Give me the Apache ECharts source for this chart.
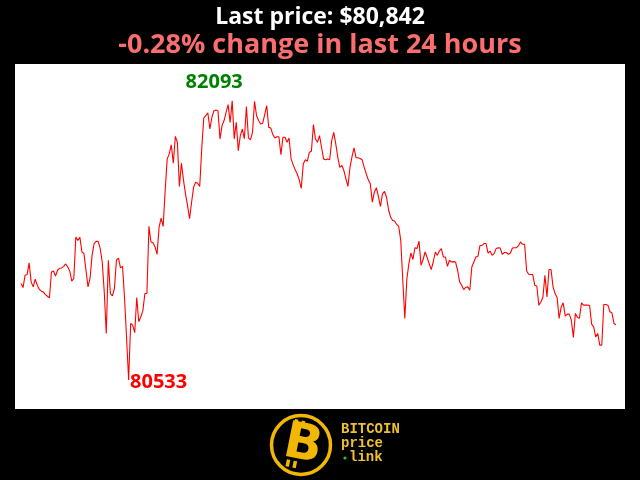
<!DOCTYPE html>
<html>
<head>
<meta charset="utf-8">
<script src="https://cdn.jsdelivr.net/npm/echarts@6/dist/echarts.min.js"></script>
<style>html,body{margin:0;padding:0;background:#000;}#c{width:640px;height:480px;}</style>
</head>
<body>
<div id="c"></div>
<script>
const titleText = 'Last price: $80,842';
const subtitleText = '-0.28% change in last 24 hours';
const logoLines = ['BITCOIN', 'price', 'link'];

const prices = [
81072,81049,81118,81122,81187,81081,81053,81096,81062,81040,
81029,81025,81010,81001,80992,81136,81142,81114,81146,81157,
81159,81168,81181,81164,81142,81085,81100,81331,81313,81330,
81248,81239,81146,81053,81100,81229,81295,81307,81307,81267,
81192,81025,80793,81202,81016,81003,81044,81202,81214,81159,
81168,80988,80765,80533,
80849,80839,80797,80994,80858,80886,80919,81016,81016,81391,
81304,81300,81276,81235,81387,81437,81391,81592,81768,81796,
81846,81744,81894,81861,81614,81744,81651,81573,81508,81434,
81526,81610,81638,81632,81614,
81824,81997,82009,82026,81935,82000,82037,82041,82037,81880,
81954,81982,82028,82071,81972,82093,81880,81972,81814,81898,
81935,81880,82060,81885,81874,81916,82089,82009,81982,81963,
81967,82015,82065,81944,81941,81904,81885,81892,81892,81792,
81889,81889,81861,81885,81768,81736,81707,81685,81651,81603,
81740,81763,
81755,81805,81811,81959,81880,81861,81898,81833,81768,81763,
81768,81763,81870,81916,81852,81777,81721,81731,81703,81657,
81614,81721,81781,81830,81774,81774,81770,81763,81721,81685,
81651,81629,81526,81582,81607,81558,81502,81573,81586,81554,
81484,81443,81424,81421,81402,81391,81313,81090,80877,
81096,81183,81242,81206,81272,81267,81309,81174,81206,81248,
81217,81183,81150,81192,81248,81229,81253,81267,81220,81220,
81168,81202,81192,81194,81192,81146,81081,81062,81038,81050,
81053,81034,81164,81192,81220,81224,81284,81285,81295,81295,
81242,81253,81229,81239,81268,81272,81270,81235,81245,81245,
81235,81242,81270,81272,81272,81284,81304,81291,81291,81142,
81124,81122,81122,81062,81058,80951,80969,80994,81118,80997,
81150,81150,81053,81016,80994,80877,80941,80964,80890,80901,
80901,80867,80771,80905,80882,80878,80964,80951,80951,80951,
80949,80845,80830,80774,80793,80728,80728,80955,80955,80951,
80914,80908,80849,80842
];
const times = prices.map((_, i) => String(i));

const chart = echarts.init(document.getElementById('c'));
const gold = '#f2b705';
const logoFont = 'bold 14px "Liberation Mono"';
chart.setOption({
  backgroundColor: '#000',
  animation: false,
  title: [
    { text: titleText, left: 'center', top: 6, padding: 0,
      textStyle: { color: '#ffffff', fontFamily: 'Open Sans', fontWeight: 'bold', fontSize: 23 } },
    { text: subtitleText, left: 'center', top: 32, padding: 0,
      textStyle: { color: '#fa6e6e', fontFamily: 'Open Sans', fontWeight: 'bold', fontSize: 27 } }
  ],
  graphic: [
    { type: 'rect', z: -10, shape: { x: 15, y: 64, width: 610, height: 345 }, style: { fill: '#ffffff' } },
    { type: 'circle', shape: { cx: 301, cy: 445, r: 29.5 }, style: { fill: '#000', stroke: gold, lineWidth: 3.5 } },
    { type: 'group', x: 302, y: 445, rotation: -0.2, children: [
      { type: 'rect', shape: { x: -12, y: -24, width: 3.5, height: 7 }, style: { fill: gold } },
      { type: 'rect', shape: { x: -5, y: -24, width: 3.5, height: 7 }, style: { fill: gold } },
      { type: 'rect', shape: { x: -12, y: 17, width: 3.5, height: 7 }, style: { fill: gold } },
      { type: 'rect', shape: { x: -5, y: 17, width: 3.5, height: 7 }, style: { fill: gold } },
      { type: 'text', x: 1, y: 1,
        style: { text: 'B', fill: gold, font: 'bold 50px "DejaVu Sans"', align: 'center', verticalAlign: 'middle' } }
    ]},
    { type: 'text', x: 341, y: 429, style: { text: logoLines[0], fill: '#efc030', font: logoFont, verticalAlign: 'middle' } },
    { type: 'text', x: 341, y: 443, style: { text: logoLines[1], fill: '#efc030', font: logoFont, verticalAlign: 'middle' } },
    { type: 'text', x: 349, y: 457, style: { text: logoLines[2], fill: '#efc030', font: logoFont, verticalAlign: 'middle' } },
    { type: 'circle', shape: { cx: 345, cy: 458, r: 1.6 }, style: { fill: '#2fbf2f' } }
  ],
  grid: { left: 21, right: 24, top: 64, bottom: 71 },
  xAxis: { type: 'category', data: times, boundaryGap: false, show: false },
  yAxis: { type: 'value', min: 80371, max: 82298, show: false },
  series: [{
    type: 'line', data: prices, symbol: 'none',
    lineStyle: { color: '#ff0000', width: 1.1 },
    markPoint: {
      symbol: 'circle', symbolSize: 0,
      data: [
        { type: 'max', label: { show: true, position: 'inside', offset: [-18, -18], formatter: p => String(p.value),
          color: '#008000', fontFamily: 'Open Sans', fontWeight: 'bold', fontSize: 20 } },
        { type: 'min', label: { show: true, position: 'inside', offset: [30, 2], formatter: p => String(p.value),
          color: '#ff0000', fontFamily: 'Open Sans', fontWeight: 'bold', fontSize: 20 } }
      ]
    }
  }]
});
</script>
</body>
</html>
